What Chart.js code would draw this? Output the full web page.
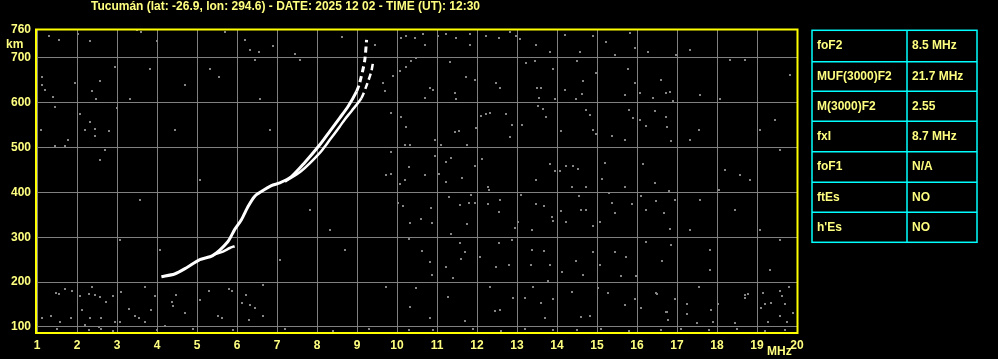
<!DOCTYPE html>
<html>
<head>
<meta charset="utf-8">
<script src="https://cdn.jsdelivr.net/npm/chart.js@4"></script>
<style>
  html, body { margin: 0; padding: 0; background: #000; }
  #wrap { width: 998px; height: 359px; position: relative; }
</style>
</head>
<body>
<div id="wrap"><canvas id="ionogram"></canvas></div>
<script>
// station header
var titleText = 'Tucumán (lat: -26.9, lon: 294.6) - DATE: 2025 12 02 - TIME (UT): 12:30';

// axes
var freqTicks = [1, 2, 3, 4, 5, 6, 7, 8, 9, 10, 11, 12, 13, 14, 15, 16, 17, 18, 19, 20];
var heightTicks = [100, 200, 300, 400, 500, 600, 700];

// ordinary trace (MHz / km)
var oFreq   = [4.11, 4.44, 4.74, 5.07, 5.39, 5.77, 5.94, 6.11, 6.28, 6.44, 6.61, 6.86, 7.07, 7.36, 7.69, 8.07, 8.32, 8.57, 8.78, 8.99, 9.07, 9.19, 9.24];
var oHeight = [212, 218, 232, 250, 259, 290, 317, 339, 369, 391, 402, 415, 421, 435, 466, 506, 536, 566, 592, 625, 645, 692, 740];

// extraordinary trace, low and high parts
var xLowFreq    = [5.44, 5.65, 5.82, 5.94];
var xLowHeight  = [262, 268, 276, 280];
var xHighFreq   = [7.2, 7.6, 8.07, 8.32, 8.57, 8.69, 8.87, 9.11, 9.28, 9.36, 9.40];
var xHighHeight = [424, 447, 488, 517, 547, 562, 582, 610, 648, 670, 689];

// background noise dots (MHz)
var noiseFreq = [
  1.29, 1.54, 2.03, 2.33, 1.13, 1.13, 1.19, 1.39, 1.94, 2.58, 2.38, 2.48, 1.44, 2.08, 2.33, 2.44, 2.19, 2.44, 1.09, 1.78, 1.44, 1.69, 2.79, 2.69, 2.95, 2.99,
  1.48, 1.55, 1.69, 1.88, 1.13, 1.36, 1.58, 1.84, 2.08, 2.30, 2.44, 2.58, 2.38, 2.90, 2.73, 2.13, 2.32, 2.61, 2.19, 2.55, 2.94, 3.08, 3.11, 3.29, 3.44, 3.54, 3.71, 3.69, 3.86, 3.94,
  4.48, 4.38, 4.40, 4.69, 4.19, 5.29, 5.79, 5.88, 5.53, 5.63, 6.23, 6.13, 6.33, 6.44, 6.29, 6.65, 6.65,
  3.49, 3.59, 4.00, 5.69, 6.19, 6.33, 6.55, 6.90, 7.44, 8.63, 9.44,
  16.49, 16.74, 16.78, 17.24, 17.24, 17.49, 17.54, 17.84, 17.89, 18.03, 18.44, 18.71, 18.78, 18.69, 19.15, 19.19, 19.34, 19.11, 19.58, 19.63, 19.69, 19.58, 19.89, 19.74, 19.27, 19.80,
  17.54, 18.04, 19.07, 19.44, 19.57, 17.32, 18.57, 17.82, 17.32, 18.32,
  10.09, 10.23, 10.44, 10.65, 10.69, 11.03, 11.23, 11.48, 11.83, 11.83, 12.23, 12.54, 12.83, 12.98, 13.08, 13.48, 13.83, 14.19, 14.58, 14.90, 15.23, 15.44, 15.83, 15.94, 16.28, 16.98,
  10.34, 10.48, 10.23, 9.90, 9.65, 9.69, 10.07, 10.82, 10.90, 10.69, 11.44, 11.48, 11.33, 11.73, 11.94, 12.48, 12.58, 13.23, 13.44, 13.50, 13.59, 13.55, 13.94, 13.90, 14.19,
  14.50, 14.65, 14.63, 14.48, 14.98, 15.69, 15.78, 15.94, 16.07, 16.40, 16.59, 16.72, 16.83, 16.90,
  9.86, 10.11, 10.23, 10.94, 11.44, 11.54, 11.75, 11.98, 12.11, 12.22, 12.33, 12.73, 12.88, 13.13, 12.83, 13.53, 13.65, 13.73, 14.09, 14.73, 14.83, 14.90, 14.98, 15.38,
  15.69, 15.79, 15.90, 16.08, 16.23, 16.44, 16.73, 16.75, 16.86,
  9.84, 10.19, 10.33, 10.94, 11.09, 11.23, 11.36, 10.29, 9.73, 9.86, 10.07, 10.19, 10.69, 11.05, 11.23, 11.63, 11.96, 12.13, 12.28, 12.30, 13.48, 13.83, 13.94, 14.08,
  14.23, 14.40, 14.53, 14.38, 14.73, 15.13, 15.19, 15.69, 16.15, 16.44, 16.80,
  10.03, 10.15, 10.32, 10.61, 10.84, 10.88, 11.30, 11.58, 11.80, 11.94, 11.75, 11.86, 12.28, 12.54, 12.58, 12.94, 13.03, 13.11, 13.38, 13.48, 13.68, 13.88, 13.90, 14.11,
  14.23, 14.55, 14.59, 14.73, 14.90, 15.08, 15.29, 15.38, 15.44, 15.88, 16.11, 16.23, 16.48, 16.67, 16.83, 16.94,
  10.30, 10.63, 10.83, 10.88, 11.34, 11.57, 11.69, 11.59, 11.23, 11.40, 12.07, 12.48, 12.54, 12.79, 12.88, 13.36, 13.38, 13.68, 13.83, 14.13, 14.48, 14.65, 14.90, 15.07,
  15.44, 15.73, 15.59, 15.98, 16.23, 16.63, 16.86,
  9.73, 10.48, 10.32, 10.83, 11.28, 11.69, 12.32, 12.44, 12.58, 12.90, 13.19, 13.40, 13.59, 13.69, 13.90, 13.78, 14.38, 14.61, 14.83, 15.03, 15.28, 15.69, 15.94, 16.11,
  16.48, 16.73, 16.94,
  1.5, 2.3, 2.6, 2.9, 4.0, 4.9, 5.9, 7.2, 8.4, 9.3, 10.3, 10.9, 11.9, 12.6, 13.2, 13.9, 14.5, 15.1, 15.8, 16.6, 17.1, 17.8, 18.5, 19.2, 19.7,
  3.32, 3.82, 4.69, 5.32, 5.54, 2.57, 3.57, 4.44, 5.07, 3.07, 4.07, 6.57, 6.82, 7.57, 8.32, 8.69, 7.07, 5.07, 7.82, 6.44,
  17.57, 18.19, 18.69, 19.44, 19.57, 19.07, 19.82, 17.82, 18.44, 17.32, 19.32, 18.07, 17.57, 18.82
];
// background noise dots (km)
var noiseHeight = [
  748, 740, 752, 737, 656, 639, 629, 612, 644, 648, 625, 607, 590, 575, 556, 542, 540, 526, 540, 517, 504, 504, 536, 495, 679, 588,
  175, 174, 185, 181, 121, 125, 112, 121, 168, 173, 171, 166, 190, 168, 155, 138, 121, 121, 104, 101, 111, 112, 179, 139, 125, 121, 112, 190, 138, 168,
  171, 156, 147, 131, 103, 181, 185, 181, 125, 121, 171, 153, 148, 143, 116, 125, 194,
  761, 757, 737, 757, 739, 718, 712, 726, 709, 746, 728,
  174, 134, 116, 151, 129, 108, 190, 138, 112, 151, 108, 171, 174, 164, 175, 151, 154, 143, 181, 168, 151, 125, 131, 112, 112, 190,
  540, 406, 540, 562, 294, 317, 439, 227, 718, 696,
  744, 748, 744, 752, 729, 748, 752, 744, 752, 729, 748, 744, 757, 748, 741, 729, 712, 750, 712, 748, 735, 707, 755, 722, 712, 707,
  692, 700, 680, 659, 644, 625, 670, 633, 627, 610, 621, 607, 691, 656, 651, 644, 633, 688, 692, 633, 633, 610, 608, 674, 627,
  692, 648, 620, 608, 666, 616, 674, 644, 621, 610, 651, 621, 623, 603,
  577, 568, 545, 516, 534, 536, 506, 543, 571, 575, 577, 575, 549, 549, 523, 593, 586, 567, 536, 584, 573, 540, 531, 526,
  517, 584, 566, 561, 547, 581, 569, 545, 514,
  491, 506, 506, 480, 506, 467, 476, 456, 438, 441, 419, 428, 438, 441, 424, 433, 458, 474, 413, 406, 427, 463, 447, 447,
  459, 459, 452, 412, 413, 430, 465, 413, 464, 421, 404,
  377, 369, 331, 340, 366, 331, 389, 371, 377, 377, 330, 395, 374, 357, 382, 320, 335, 393, 316, 374, 370, 345, 337, 359,
  335, 391, 361, 361, 324, 335, 398, 376, 355, 374, 391, 360, 380, 355, 318, 383,
  296, 270, 244, 216, 307, 288, 266, 251, 233, 209, 255, 233, 288, 238, 293, 238, 272, 270, 238, 223, 248, 216, 266, 238,
  268, 255, 214, 214, 290, 246, 283,
  188, 186, 144, 121, 166, 114, 190, 136, 138, 164, 164, 188, 154, 121, 162, 203, 177, 123, 125, 186, 175, 149, 162, 142,
  175, 134, 162,
  95, 93, 96, 92, 94, 96, 93, 95, 92, 96, 94, 93, 95, 92, 96, 94, 93, 95, 92, 94, 96, 93, 95, 92, 94,
  607, 674, 640, 674, 656, 473, 383, 540, 428, 294, 272, 607, 540, 696, 317, 272, 250, 160, 361, 696,
  618, 450, 696, 562, 495, 317, 662, 272, 361, 517, 227, 607, 383, 428
];

// table beside the chart
var tableLabels = ['foF2', 'MUF(3000)F2', 'M(3000)F2', 'fxI', 'foF1', 'ftEs', "h'Es"];
var tableValues = ['8.5 MHz', '21.7 MHz', '2.55', '8.7 MHz', 'N/A', 'NO', 'NO'];

var textYellow = '#ffff80';
var frameYellow = '#ffff00';
var gridGray = '#808080';
var fontName = '"Liberation Sans", Arial, sans-serif';

function pairs(xs, ys) {
  return xs.map(function (x, i) { return { x: x, y: ys[i] }; });
}

// small square used for the noise
var dot = document.createElement('canvas');
dot.width = 2; dot.height = 2;
var dctx = dot.getContext('2d');
dctx.fillStyle = '#858585';
dctx.fillRect(0, 0, 2, 2);

var dashUp = function (c) { return c.p0.parsed.y > 600 ? [6, 4] : undefined; };

var decor = {
  id: 'decor',
  beforeDraw: function (chart) {
    var c = chart.ctx;
    c.save();
    c.fillStyle = '#000';
    c.fillRect(0, 0, chart.width, chart.height);
    c.restore();
  },
  afterDraw: function (chart) {
    var c = chart.ctx;
    var a = chart.chartArea;
    c.save();

    // frame
    c.strokeStyle = frameYellow;
    c.lineWidth = 2;
    c.strokeRect(a.left - 1, a.top + 0.5, a.right - a.left + 1.5, a.bottom - a.top - 0.5);

    // title, fitted to the original width
    c.font = 'bold 12px ' + fontName;
    var w = c.measureText(titleText).width;
    var size = Math.min(12, 12 * 408 / w);
    c.font = 'bold ' + size.toFixed(2) + 'px ' + fontName;
    c.fillStyle = textYellow;
    c.textBaseline = 'middle';
    c.textAlign = 'left';
    c.fillText(titleText, 91, 7);

    // unit labels
    c.font = 'bold 12px ' + fontName;
    c.fillText('km', 6, 45);
    c.fillText('MHz', 767, 352);

    // table
    var tx = [812, 907, 977];
    var ty = [30.3, 61.7, 91.3, 121.3, 151.7, 182.3, 212.3, 242.3];
    c.strokeStyle = '#00ffff';
    c.lineWidth = 1.5;
    c.strokeRect(tx[0], ty[0], tx[2] - tx[0], ty[7] - ty[0]);
    c.beginPath();
    c.moveTo(tx[1], ty[0]); c.lineTo(tx[1], ty[7]);
    for (var i = 1; i < 7; i++) { c.moveTo(tx[0], ty[i]); c.lineTo(tx[2], ty[i]); }
    c.stroke();
    c.fillStyle = textYellow;
    for (var j = 0; j < tableLabels.length; j++) {
      var my = (ty[j] + ty[j + 1]) / 2;
      c.fillText(tableLabels[j], 817, my);
      c.fillText(tableValues[j], 912, my);
    }
    c.restore();
  }
};

var ctx = document.getElementById('ionogram').getContext('2d');
var chart = new Chart(ctx, {
  type: 'scatter',
  data: {
    datasets: [{
      label: 'O trace',
      type: 'line',
      data: pairs(oFreq, oHeight),
      borderColor: '#ffffff',
      borderWidth: 3,
      pointRadius: 0,
      tension: 0.25,
      segment: { borderDash: dashUp }
    }, {
      label: 'X trace low',
      type: 'line',
      data: pairs(xLowFreq, xLowHeight),
      borderColor: '#ffffff',
      borderWidth: 2.5,
      pointRadius: 0,
      tension: 0.25
    }, {
      label: 'X trace high',
      type: 'line',
      data: pairs(xHighFreq, xHighHeight),
      borderColor: '#ffffff',
      borderWidth: 2.5,
      pointRadius: 0,
      tension: 0.25,
      segment: { borderDash: dashUp }
    }, {
      label: 'noise',
      data: pairs(noiseFreq, noiseHeight),
      pointStyle: dot,
      pointRadius: 1
    }]
  },
  options: {
    responsive: true,
    maintainAspectRatio: false,
    animation: false,
    layout: { padding: { top: 29, right: 201, bottom: 0, left: 0 } },
    plugins: {
      legend: { display: false },
      tooltip: { enabled: false }
    },
    scales: {
      x: {
        type: 'linear',
        min: 1,
        max: 20,
        afterBuildTicks: function (s) { s.ticks = freqTicks.map(function (v) { return { value: v }; }); },
        afterFit: function (s) { s.height = 26; },
        ticks: {
          color: textYellow,
          font: { family: fontName, size: 12, weight: 'bold' },
          padding: 5,
          autoSkip: false,
          maxRotation: 0
        },
        grid: { color: gridGray, drawTicks: false, lineWidth: 1 },
        border: { display: false }
      },
      y: {
        type: 'linear',
        min: 86.6,
        max: 764,
        afterBuildTicks: function (s) {
          s.ticks = heightTicks.map(function (v) { return { value: v }; }).concat([{ value: 762.5 }]);
        },
        afterFit: function (s) { s.width = 37; },
        ticks: {
          color: textYellow,
          font: { family: fontName, size: 12, weight: 'bold' },
          padding: 6,
          autoSkip: false,
          callback: function (v) { return v > 750 ? '760' : v; }
        },
        grid: {
          color: function (c) { return c.tick && c.tick.value > 750 ? 'rgba(0,0,0,0)' : gridGray; },
          drawTicks: false,
          lineWidth: 1
        },
        border: { display: false }
      }
    }
  },
  plugins: [decor]
});
</script>
</body>
</html>
